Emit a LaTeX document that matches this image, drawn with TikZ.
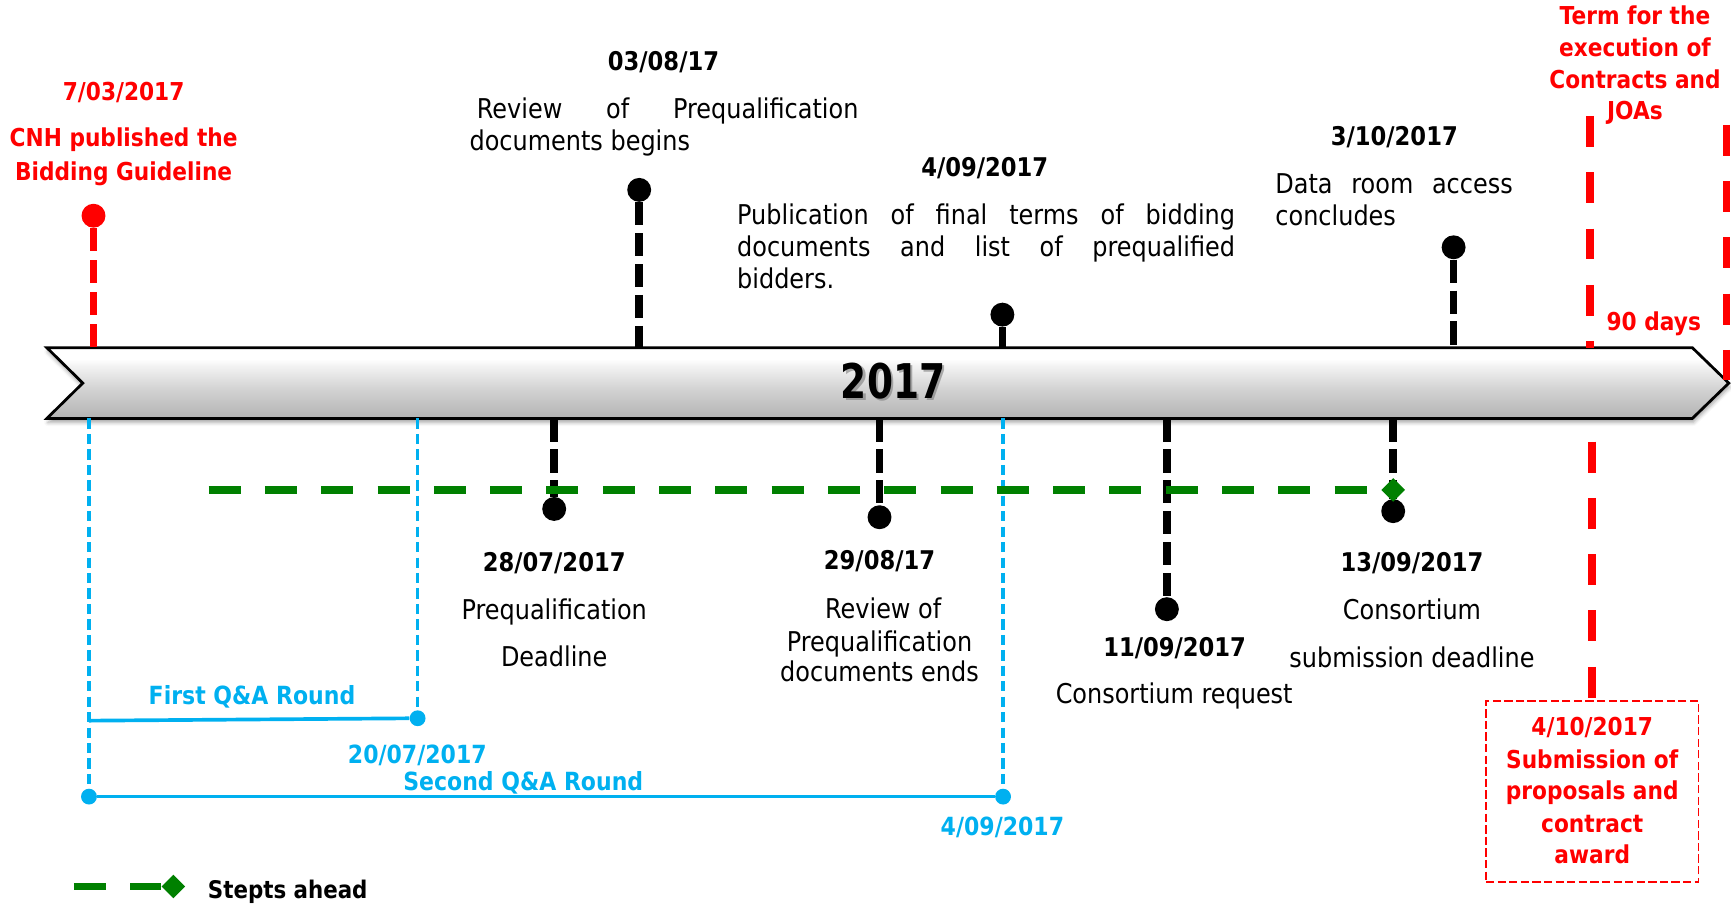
\documentclass[tikz,border=0pt]{standalone}
\usepackage{fontspec}
\setmainfont{DejaVu Sans}[FakeStretch=0.88]
\usetikzlibrary{shapes.geometric,shadows.blur}
\definecolor{tlred}{RGB}{255,0,0}
\definecolor{tlblue}{RGB}{0,176,240}
\definecolor{tlgreen}{RGB}{0,128,0}
\pgfdeclareverticalshading{barshade}{100bp}{color(0bp)=(black!30); color(25bp)=(black!30); color(45bp)=(black!18); color(62bp)=(black!5); color(67bp)=(white); color(100bp)=(white)}
\tikzset{
  tltxt/.style={inner sep=0pt, anchor=base, font=\fontsize{14.8}{17}\selectfont},
  tldate/.style={inner sep=0pt, anchor=base, font=\fontsize{14}{17}\selectfont\bfseries},
  tlredt/.style={inner sep=0pt, anchor=base, text=tlred, font=\fontsize{13.4}{16}\selectfont\bfseries},
  tlbluet/.style={inner sep=0pt, anchor=base, text=tlblue, font=\fontsize{13.6}{16}\selectfont\bfseries},
  tldot/.style={circle, fill=black, inner sep=0pt, minimum size=13pt},
  tlrdot/.style={tldot, fill=tlred},
  tlbdot/.style={circle, fill=tlblue, inner sep=0pt, minimum size=8.6pt},
  tldiam/.style={diamond, aspect=1, fill=tlgreen, inner sep=0pt, minimum size=13pt},
  tlblk/.style={black, line width=4.2pt, dash pattern=on 12.6pt off 4.2pt},
  tlredshort/.style={tlred, line width=4.2pt, dash pattern=on 12.6pt off 4.8pt},
  tlredlong/.style={tlred, line width=4.2pt, dash pattern=on 16.8pt off 13.8pt},
  tlgreenline/.style={tlgreen, line width=4.3pt, dash pattern=on 17.4pt off 13.2pt},
  tlbluedash/.style={tlblue, line width=1.75pt, dash pattern=on 5.6pt off 2.8pt},
  tlblueline/.style={tlblue, line width=2pt},
}
\begin{document}
\begin{tikzpicture}[x=0.6pt, y=-0.6pt]
\useasboundingbox (0,0) rectangle (1568,819);

% timeline bar
\path[draw=black, line width=1.5pt, shading=barshade,
  blur shadow={shadow xshift=0.5pt, shadow yshift=-2.2pt, shadow blur radius=2pt, shadow opacity=35}]
  (42.5,315) -- (1533,315) -- (1566,347) -- (1533,379) -- (42.5,379) -- (75,347) -- cycle;
\node[inner sep=0pt, anchor=base, text=black!55, opacity=0.55, font=\fontsize{26}{30}\selectfont\bfseries] (yrs) at (811.5,363) {\scalebox{0.89}[1]{2017}};
\node[inner sep=0pt, anchor=base, font=\fontsize{26}{30}\selectfont\bfseries] (yr) at (809,360.6) {\scalebox{0.89}[1]{2017}};

% ---------- top events ----------
\node[tlredt] (t1date) at (112,91) {7/03/2017};
\node[tlredt] (t1a) at (112,133) {CNH published the};
\node[tlredt] (t1b) at (112,163.5) {Bidding Guideline};
\node[tlrdot] (d1) at (84.7,195.4) {};
\coordinate (a1) at (84.7,315);
\draw[tlredshort] (d1) -- (a1);

\node[tldate] (t2date) at (601,63.6) {03/08/17};
\node[tltxt, anchor=base west] (t2a) at (431.6,107) {\makebox[207.4pt][s]{Review of Prequalification}};
\node[tltxt, anchor=base west] (t2b) at (425,136) {documents begins};
\node[tldot] (d2) at (579,172) {};
\coordinate (a2) at (579,315);
\draw[tlblk] (d2) -- (a2);

\node[tldate] (t3date) at (892,160) {4/09/2017};
\node[tltxt, anchor=base west] (t3a) at (667.4,203) {\makebox[270.6pt][s]{Publication of final terms of bidding}};
\node[tltxt, anchor=base west] (t3b) at (667.4,232) {\makebox[270.6pt][s]{documents and list of prequalified}};
\node[tltxt, anchor=base west] (t3c) at (667.4,261) {bidders.};
\node[tldot] (d3) at (908,285) {};
\coordinate (a3) at (908,315);
\draw[tlblk] (d3) -- (a3);

\node[tldate] (t4date) at (1263,132) {3/10/2017};
\node[tltxt, anchor=base west] (t4a) at (1155,175) {\makebox[129pt][s]{Data room access}};
\node[tltxt, anchor=base west] (t4b) at (1155,204) {concludes};
\node[tldot] (d4) at (1316.7,224) {};
\coordinate (a4) at (1316.7,315);
\draw[tlblk] (d4) -- (a4);

% term for execution
\node[tlredt] (t9a) at (1481,22.6) {Term for the};
\node[tlredt] (t9b) at (1481,51) {execution of};
\node[tlredt] (t9c) at (1481,80) {Contracts and};
\node[tlredt] (t9d) at (1481,108) {JOAs};
\coordinate (r1t) at (1440,105);
\coordinate (r1b) at (1440,315);
\coordinate (r2t) at (1564,113);
\coordinate (r2b) at (1564,344);
\draw[tlredlong] (r1t) -- (r1b);
\draw[tlredlong] (r2t) -- (r2b);
\node[tlredt] (days) at (1498,299) {90 days};

% ---------- bottom events ----------
\coordinate (a5) at (502,379);
\node[tldot] (d5) at (502,461) {};
\draw[tlblk] (a5) -- (d5);
\node[tldate] (t5date) at (502,518) {28/07/2017};
\node[tltxt] (t5a) at (502,561.6) {Prequalification};
\node[tltxt] (t5b) at (502,604) {Deadline};

\coordinate (a6) at (796.7,379);
\node[tldot] (d6) at (796.7,468.5) {};
\draw[tlblk] (a6) -- (d6);
\node[tldate] (t6date) at (796.7,516) {29/08/17};
\node[tltxt] (t6a) at (800,560) {Review of};
\node[tltxt] (t6b) at (796.7,590) {Prequalification};
\node[tltxt] (t6c) at (796.7,617.6) {documents ends};

\coordinate (a7) at (1057,379);
\node[tldot] (d7) at (1057,551.8) {};
\draw[tlblk] (a7) -- (d7);
\node[tldate] (t7date) at (1064,595) {11/09/2017};
\node[tltxt] (t7a) at (1063.6,637.6) {Consortium request};

\coordinate (a8) at (1262,379);
\node[tldot] (d8) at (1262,463) {};
\draw[tlblk] (a8) -- (d8);
\node[tldate] (t8date) at (1279,518) {13/09/2017};
\node[tltxt] (t8a) at (1279,561.6) {Consortium};
\node[tltxt] (t8b) at (1279,604.8) {submission deadline};

% Q&A rounds
\coordinate (b1) at (80.6,379);
\coordinate (b2) at (378.3,379);
\coordinate (b3) at (908.6,379);
\coordinate (c1) at (80.6,652.8);
\node[tlbdot] (q1e) at (378.3,650.6) {};
\node[tlbdot] (q2s) at (80.6,721.6) {};
\node[tlbdot] (q2e) at (908.6,721.6) {};
\draw[tlbluedash] (b1) -- (q2s);
\draw[tlbluedash] (b2) -- (q1e);
\draw[tlbluedash] (b3) -- (q2e);
\draw[tlblueline] (c1) -- (q1e);
\draw[tlblueline] (q2s) -- (q2e);
\node[tlbluet] (q1l) at (228.3,638.6) {First Q\&A Round};
\node[tlbluet] (q1d) at (378,691.4) {20/07/2017};
\node[tlbluet] (q2l) at (474,716.5) {Second Q\&A Round};
\node[tlbluet] (q2d) at (908,756.5) {4/09/2017};

% steps ahead (green)
\coordinate (g0) at (189,443.8);
\node[tldiam] (gd) at (1262,443.8) {};
\draw[tlgreenline] (g0) -- (gd);

% submission box
\node[draw=tlred, line width=0.9pt, dash pattern=on 4.5pt off 1.8pt, minimum width=115.5pt, minimum height=98.4pt, inner sep=0pt] (box) at (1442.3,717) {};
\coordinate (r3t) at (1442.3,400);
\draw[tlredlong] (r3t) -- (box.north);
\node[tlredt] (s1) at (1442.3,666) {4/10/2017};
\node[tlredt] (s2) at (1442.3,696) {Submission of};
\node[tlredt] (s3) at (1442.3,724.6) {proposals and};
\node[tlredt] (s4) at (1442.3,753.7) {contract};
\node[tlredt] (s5) at (1442.3,782.6) {award};

% legend
\coordinate (l0) at (67,803);
\node[tldiam] (ld) at (157,803) {};
\draw[tlgreenline] (l0) -- (ld);
\node[tldate, anchor=base west, font=\fontsize{13.2}{16}\selectfont\bfseries] (lt) at (188,813.6) {Stepts ahead};
\end{tikzpicture}
\end{document}
